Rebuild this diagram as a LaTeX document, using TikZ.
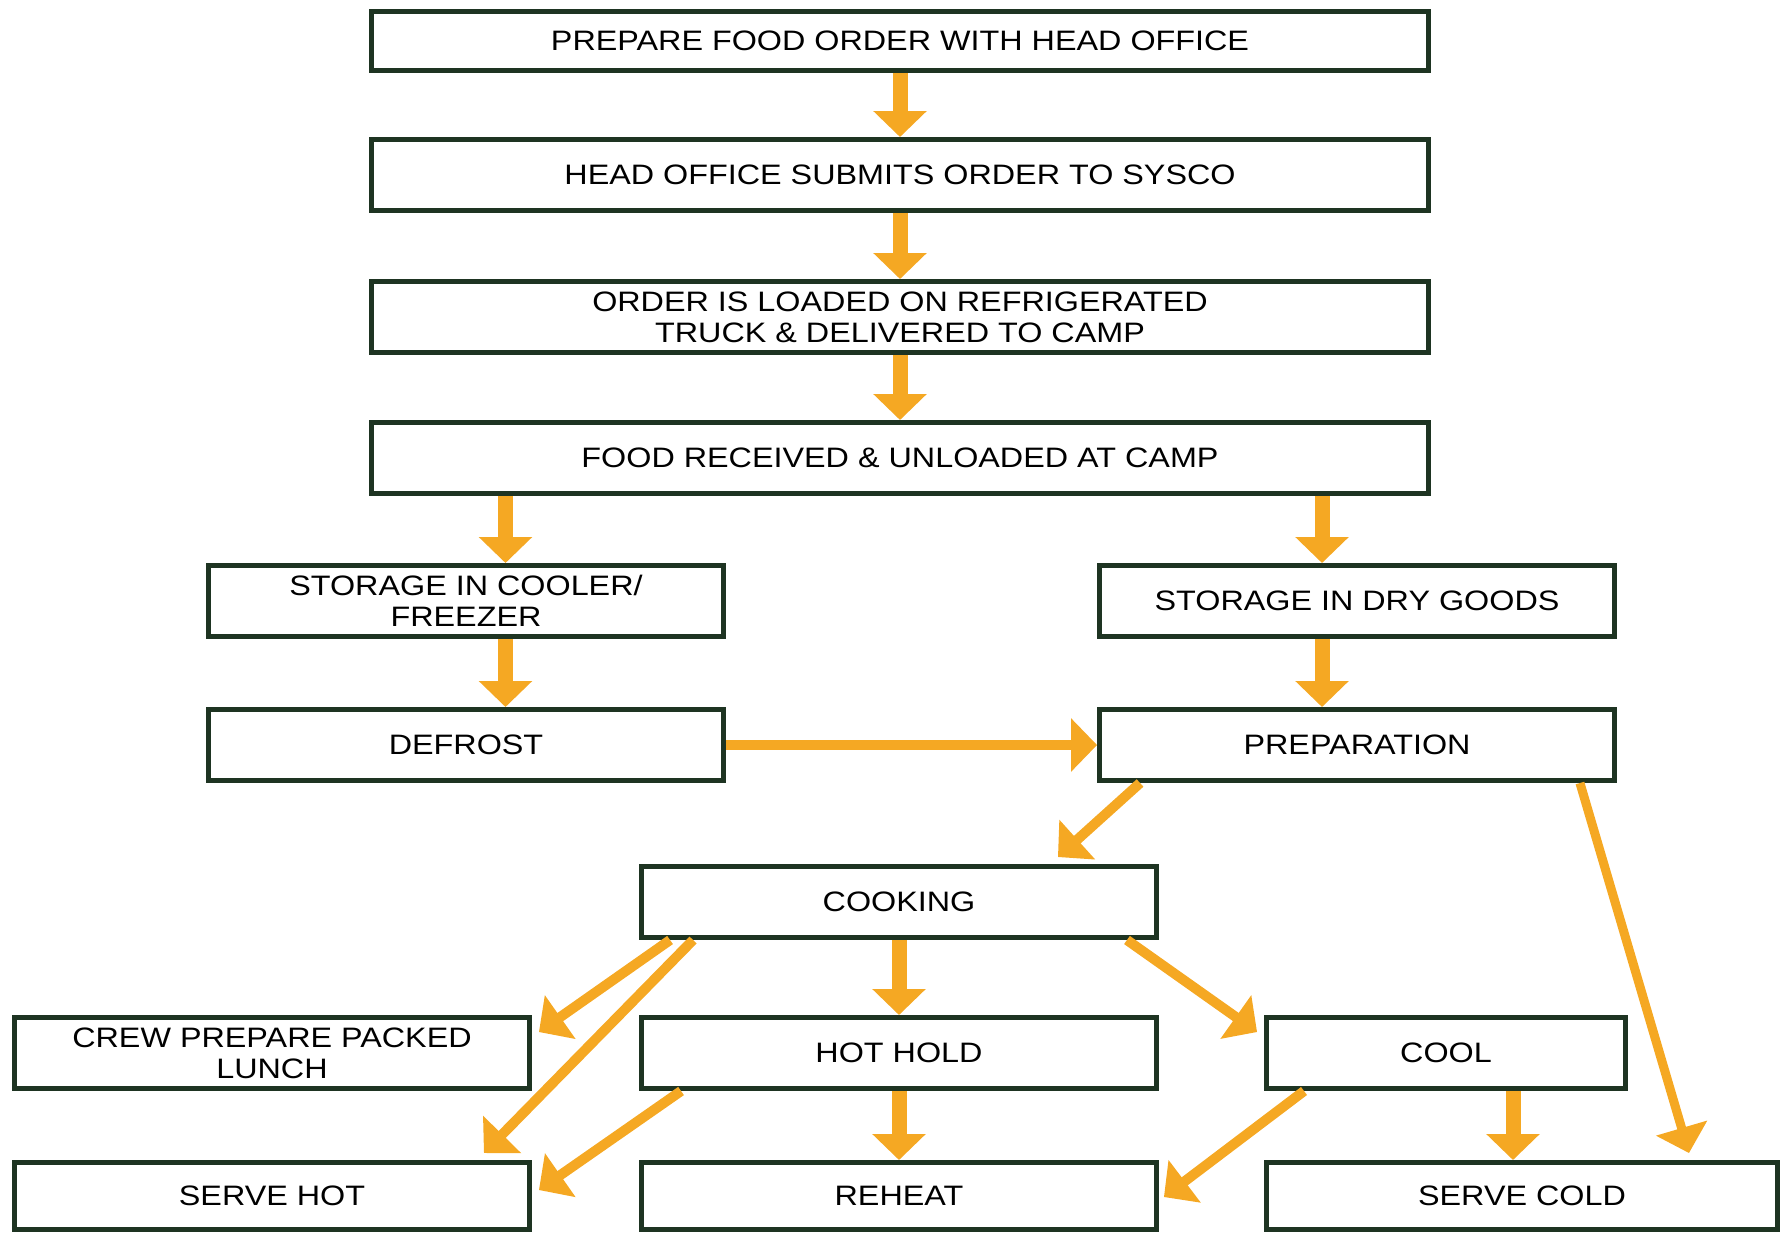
\documentclass[tikz,border=0pt]{standalone}
\usepackage{fontspec}
\setmainfont[FakeStretch=1.15]{Liberation Sans}
\usepackage{tikz}
\usetikzlibrary{positioning,calc,arrows.meta}

\definecolor{boxgreen}{RGB}{30,52,34}
\definecolor{floworange}{RGB}{245,168,35}

\tikzset{
    stepbox/.style={draw=boxgreen, line width=0.1cm, fill=white, align=center,
        inner sep=0pt, minimum height=1.42cm,
        font=\fontsize{16}{17.6}\selectfont},
    widebox/.style={stepbox, minimum width=21.16cm},
    halfbox/.style={stepbox, minimum width=10.3cm},
    flow/.style={draw=floworange, line width=0.3cm,
        -{Triangle[width=1.04cm,length=0.52cm]}},
    slant/.style={flow, line width=0.2cm}
}

\begin{document}
\begin{tikzpicture}[x=0.02cm,y=-0.02cm]
    \useasboundingbox (0,0) rectangle (1787,1235);

    % Ordering
    \node[widebox, minimum height=1.18cm] (order) at (900,41) {PREPARE FOOD ORDER WITH HEAD OFFICE};
    \node[widebox] (submit) at (900,175) {HEAD OFFICE SUBMITS ORDER TO SYSCO};
    \node[widebox] (truck) at (900,317) {ORDER IS LOADED ON REFRIGERATED\\TRUCK \& DELIVERED TO CAMP};
    \node[widebox] (received) at (900,458) {FOOD RECEIVED \& UNLOADED AT CAMP};

    % Storage
    \node[halfbox] (cooler) at (466,601) {STORAGE IN COOLER/\\FREEZER};
    \node[halfbox] (drygoods) at (1357,601) {STORAGE IN DRY GOODS};
    \node[halfbox] (defrost) at (466,745) {DEFROST};
    \node[halfbox] (prep) at (1357,745) {PREPARATION};

    % Cooking and serving
    \node[halfbox] (cooking) at (899,902) {COOKING};
    \node[halfbox] (packed) at (272,1053) {CREW PREPARE PACKED\\LUNCH};
    \node[halfbox] (hothold) at (899,1053) {HOT HOLD};
    \node[stepbox, minimum width=7.18cm] (cool) at (1446,1053) {COOL};
    \node[halfbox, minimum height=1.34cm] (servehot) at (272,1196) {SERVE HOT};
    \node[halfbox, minimum height=1.34cm] (reheat) at (899,1196) {REHEAT};
    \node[halfbox, minimum width=10.22cm, minimum height=1.34cm] (servecold) at (1522,1196) {SERVE COLD};

    % Arrows
    \draw[flow] (order) -- (submit);
    \draw[flow] (submit) -- (truck);
    \draw[flow] (truck) -- (received);
    \draw[flow] ([xshift=0.79cm]cooler.north |- received.south) -- ([xshift=0.79cm]cooler.north);
    \draw[flow] ([xshift=-0.7cm]drygoods.north |- received.south) -- ([xshift=-0.7cm]drygoods.north);
    \draw[flow] ([xshift=0.79cm]cooler.south) -- ([xshift=0.79cm]defrost.north);
    \draw[flow] ([xshift=-0.7cm]drygoods.south) -- ([xshift=-0.7cm]prep.north);
    \draw[slant] (defrost) -- (prep);
    \draw[slant] ([xshift=0.86cm]prep.south west) -- ([xshift=-2.02cm,yshift=0.14cm]cooking.north east);
    \draw[slant, line width=0.18cm] ([xshift=-0.74cm]prep.south east) -- ([xshift=-1.82cm,yshift=0.14cm]servecold.north east);
    \draw[slant] ([xshift=0.62cm]cooking.south west) -- ([xshift=0.14cm,yshift=-0.34cm]packed.north east);
    \draw[slant] ([xshift=1.08cm]cooking.south west) -- ([xshift=-0.96cm,yshift=0.14cm]servehot.north east);
    \draw[flow] (cooking) -- (hothold);
    \draw[slant] ([xshift=-0.64cm]cooking.south east) -- ([xshift=-0.14cm,yshift=-0.34cm]cool.north west);
    \draw[slant] ([xshift=0.84cm]hothold.south west) -- ([xshift=0.14cm,yshift=-0.6cm]servehot.north east);
    \draw[flow] (hothold) -- (reheat);
    \draw[slant] ([xshift=0.8cm]cool.south west) -- ([xshift=0.1cm,yshift=-0.74cm]reheat.north east);
    \draw[flow] ([xshift=1.34cm]cool.south) -- ([xshift=1.34cm]cool.south |- servecold.north);
\end{tikzpicture}
\end{document}
